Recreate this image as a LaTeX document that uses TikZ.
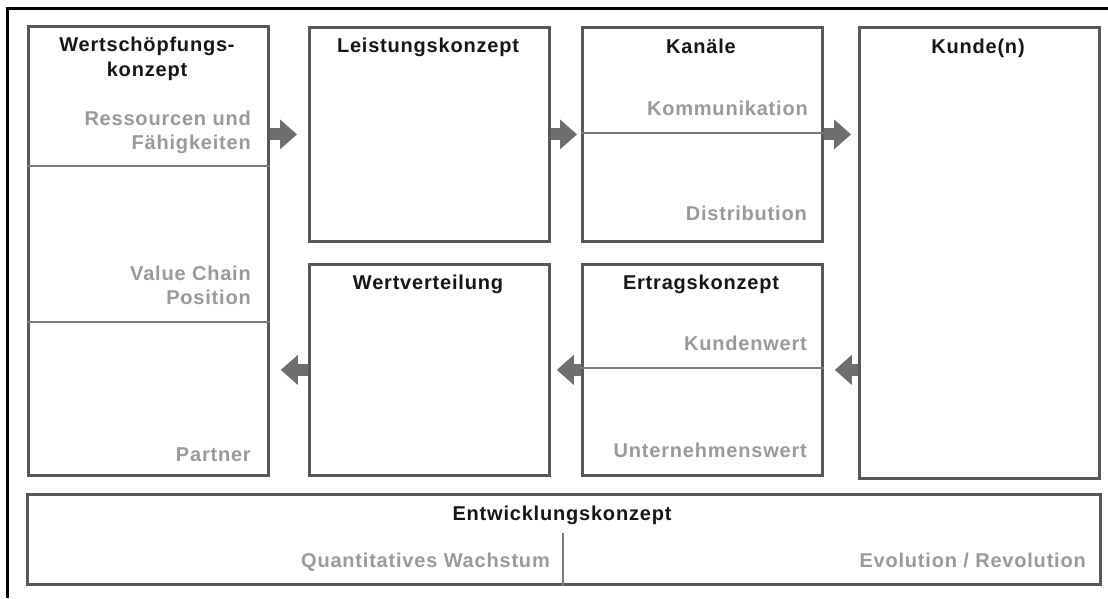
\documentclass[tikz,border=0pt]{standalone}
\usepackage{fontspec}
\setmainfont{Liberation Sans}[LetterSpace=4]
\usetikzlibrary{arrows.meta}
\definecolor{boxline}{HTML}{585858}
\definecolor{divline}{HTML}{7A7A7A}
\definecolor{labelgray}{HTML}{9A9A9A}
\definecolor{arrowgray}{HTML}{6E6E6E}
\definecolor{titleblack}{HTML}{161616}

\begin{document}
\begin{tikzpicture}[x=1pt,y=-1pt,
  box/.style={draw=boxline,line width=2.8pt,fill=white,inner sep=0pt,anchor=north west},
  divider/.style={draw=divline,line width=1.4pt},
  title/.style={font=\bfseries\fontsize{20}{25}\selectfont,text=titleblack,inner sep=0pt,anchor=base,align=center},
  sublabel/.style={font=\bfseries\fontsize{20}{24}\selectfont,text=labelgray,inner sep=0pt,anchor=base east,align=right},
  flow/.style={draw=arrowgray,line width=12pt,-{Triangle[width=30pt,length=17pt,line width=0pt]}},
]
\useasboundingbox (0,0) rectangle (1108,598);

% outer frame (top and left edges)
\draw[line width=3pt] (7,598) -- (7,8) -- (1108,8);

% building blocks
\node[box,minimum width=240pt,minimum height=449pt] (b1) at (27,25) {};
\node[box,minimum width=240pt,minimum height=214pt] (b2) at (308,26) {};
\node[box,minimum width=240pt,minimum height=214pt] (b3) at (581,26) {};
\node[box,minimum width=240pt,minimum height=451pt] (b4) at (858,26) {};
\node[box,minimum width=240pt,minimum height=211pt] (b5) at (308,263) {};
\node[box,minimum width=240pt,minimum height=211pt] (b6) at (581,263) {};
\node[box,minimum width=1073pt,minimum height=90pt] (b7) at (26,493) {};

% inner dividers
\draw[divider] (b1.west |- 0,166) -- (b1.east |- 0,166);
\draw[divider] (b1.west |- 0,322) -- (b1.east |- 0,322);
\draw[divider] (b3.west |- 0,133) -- (b3.east |- 0,133);
\draw[divider] (b6.west |- 0,368) -- (b6.east |- 0,368);
\draw[divider] (563,533) -- (b7.south -| 563,0);

% flow arrows
\draw[flow,shorten >=11pt] (b1.east |- b2.west) -- (b2.west);
\draw[flow,shorten >=4pt] (b2.east) -- (b3.west);
\draw[flow,shorten >=7pt] (b3.east) -- (b4.west |- b3.east);
\draw[flow,shorten >=11pt] (b4.west |- b6.east) -- (b6.east);
\draw[flow,shorten >=6pt] (b6.west) -- (b5.east);
\draw[flow,shorten >=11pt] (b5.west) -- (b1.east |- b5.west);

% titles (base anchor sits on the last line)
\node[title] (t1) at (147,76) {Wertschöpfungs-\\konzept};
\node[title] (t2) at (428,52) {Leistungskonzept};
\node[title] (t3) at (701,53) {Kanäle};
\node[title] (t4) at (978,53) {Kunde(n)};
\node[title] (t5) at (428,289) {Wertverteilung};
\node[title] (t6) at (701,289) {Ertragskonzept};
\node[title] (t7) at (562,520) {Entwicklungskonzept};

% sub-labels
\node[sublabel] (s1) at (251,149) {Ressourcen und\\Fähigkeiten};
\node[sublabel] (s2) at (251,304) {Value Chain\\Position};
\node[sublabel] (s3) at (251,461) {Partner};
\node[sublabel] (s4) at (808,115) {Kommunikation};
\node[sublabel] (s5) at (807,220) {Distribution};
\node[sublabel] (s6) at (807,350) {Kundenwert};
\node[sublabel] (s7) at (807,457) {Unternehmenswert};
\node[sublabel] (s8) at (550,567) {Quantitatives Wachstum};
\node[sublabel] (s9) at (1086,567) {Evolution / Revolution};
\end{tikzpicture}
\end{document}
